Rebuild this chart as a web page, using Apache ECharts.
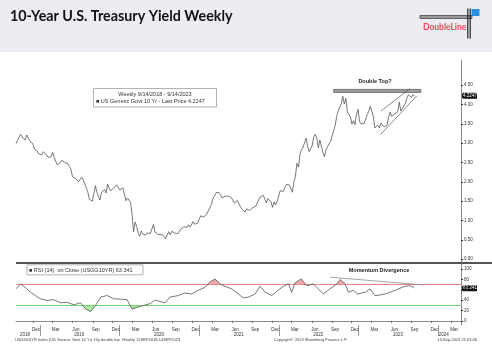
<!DOCTYPE html>
<html><head><meta charset="utf-8">
<script src="https://cdn.jsdelivr.net/npm/echarts@6/dist/echarts.min.js"></script>
<style>html,body{margin:0;padding:0;background:#fff}#c{width:492px;height:351px}</style>
</head><body><div id="c"></div>
<script>
// ---- data ----
const seriesStart = [2018, 8, 14]; // first weekly close (Sep 14 2018)
const y2018 = [2.99,3.07,3.06,3.23,3.16,3.20,3.08,3.21,3.19,3.06,3.05,2.99,2.85,2.89,2.79,2.72];
const y2019 = [2.67,2.70,2.78,2.76,2.69,2.63,2.66,2.65,2.76,2.63,2.59,2.44,2.41,2.50,2.56,2.56,2.50,2.53,2.47,2.39,2.32,2.13,2.08,2.09,2.05,2.00,2.04,2.12,2.05,2.07,1.85,1.74,1.55,1.52,1.50,1.55,1.90,1.72,1.68,1.53,1.73,1.75,1.80,1.71,1.94,1.83,1.77,1.78,1.84,1.82,1.92,1.88];
const y2020 = [1.79,1.82,1.84,1.68,1.51,1.58,1.59,1.47,1.15,0.71,0.96,0.85,0.67,0.59,0.73,0.65,0.60,0.62,0.68,0.64,0.66,0.65,0.90,0.70,0.69,0.64,0.67,0.64,0.62,0.59,0.53,0.56,0.71,0.63,0.72,0.72,0.67,0.69,0.66,0.70,0.78,0.74,0.84,0.87,0.82,0.89,0.83,0.84,0.97,0.90,0.95,0.94];
const y2021 = [0.92,1.12,1.08,1.09,1.07,1.17,1.20,1.34,1.41,1.57,1.63,1.72,1.68,1.72,1.66,1.58,1.56,1.63,1.58,1.63,1.62,1.59,1.55,1.45,1.44,1.52,1.43,1.36,1.29,1.28,1.22,1.30,1.28,1.26,1.31,1.33,1.34,1.37,1.46,1.47,1.61,1.57,1.65,1.55,1.45,1.57,1.54,1.48,1.34,1.48,1.40,1.49,1.51];
const y2022 = [1.77,1.78,1.75,1.78,1.93,1.94,1.92,1.97,1.73,2.00,2.15,2.48,2.38,2.72,2.83,2.90,2.89,3.13,2.92,2.78,2.74,2.94,3.16,3.23,3.13,2.88,3.08,2.92,2.75,2.65,2.83,2.84,2.98,3.04,3.19,3.31,3.45,3.69,3.83,3.88,4.02,4.21,4.01,4.16,3.81,3.83,3.68,3.49,3.58,3.48,3.75,3.87];
const y2023 = [3.56,3.50,3.48,3.51,3.53,3.74,3.82,3.95,3.96,3.70,3.39,3.38,3.47,3.39,3.52,3.57,3.42,3.44,3.46,3.67,3.80,3.69,3.74,3.76,3.73,3.81,4.06,3.83,3.84,3.96,4.03,4.16,4.25,4.24,4.18,4.26,4.22];
const lastPrice = 4.2247;

const rsiDates = ['2018-09-14','2018-10-05','2018-10-26','2018-11-19','2018-12-12','2019-01-04','2019-02-04','2019-03-06','2019-04-06','2019-05-07','2019-06-06','2019-07-07','2019-07-30','2019-08-22','2019-09-14','2019-10-07','2019-11-06','2019-12-07','2020-01-06','2020-02-05','2020-02-28','2020-03-22','2020-04-22','2020-05-23','2020-06-10','2020-06-30','2020-07-28','2020-08-20','2020-09-27','2020-10-28','2020-11-27','2020-12-27','2021-01-27','2021-02-19','2021-03-14','2021-04-06','2021-04-29','2021-05-30','2021-06-29','2021-07-22','2021-08-14','2021-09-14','2021-10-07','2021-10-30','2021-11-30','2021-12-22','2022-01-22','2022-02-14','2022-03-01','2022-03-16','2022-04-14','2022-05-09','2022-06-08','2022-07-01','2022-07-24','2022-08-24','2022-09-24','2022-10-09','2022-11-01','2022-11-16','2022-12-09','2022-12-28','2023-02-01','2023-02-23','2023-03-17','2023-04-09','2023-05-03','2023-05-26','2023-06-18','2023-07-10','2023-08-02','2023-08-25','2023-09-09','2023-09-14'];
const rsiValues = [62,71.6,65,55.5,49,42.6,39.4,41,35,36,31,35,23,18,30,46,49,42.6,42,41,23,26,30,33.6,40,38,35,46,49,54,52,59,65,75,81,71.6,67,62,52,44.5,46,52,67,55.5,49,57,67,71.6,55.5,73.5,81,68,71.6,62,52,62,71.6,80,71.6,55.5,59,52,55.5,62,49,50,52,55.5,59,63,67,68,65,63.3];
const lastRsi = 63.341;

const yTicks = [0,0.5,1,1.5,2,2.5,3,3.5,4,4.5];
const rsiTicks = [0,20,40,60,80,100];
const overbought = 70, oversold = 30;
const monthNames = ['Jan','Feb','Mar','Apr','May','Jun','Jul','Aug','Sep','Oct','Nov','Dec'];
const labelMonths = [11, 2, 5, 8];
const labelYears = [2018,2019,2020,2021,2022,2023,2024];
const yearLabelDates = ['2018-10-25','2019-07-01','2020-07-01','2021-07-01','2022-07-01','2023-07-01','2024-01-27'];

// annotations (data coordinates)
const doubleTopBand = [['2022-09-09', 4.31], ['2023-10-14', 4.39]];
const channelUpper = [['2023-04-14', 3.83], ['2023-08-25', 4.41]];
const channelLower = [['2023-04-12', 3.22], ['2023-09-25', 4.22]];
const divergence = [['2022-08-24', 84.5], ['2023-10-26', 69.6]];

// ---- build ----
const ts = s => { const p = s.split('-').map(Number); return new Date(p[0], p[1] - 1, p[2]).getTime(); };
const pt = a => [ts(a[0]), a[1]];
const yields = [].concat(y2018, y2019, y2020, y2021, y2022, y2023);
const yieldData = yields.map((v, i) => [new Date(seriesStart[0], seriesStart[1], seriesStart[2] + 7 * i).getTime(), v]);
const rsiData = rsiDates.map((d, i) => [ts(d), rsiValues[i]]);

const xMin = new Date(2018, 8, 14).getTime(), xMax = new Date(2024, 3, 15).getTime();
const monthLabelVals = [], monthTickVals = [];
for (let y = 2018; y <= 2024; y++) for (const m of labelMonths) {
  const t = new Date(y, m, 15).getTime();
  if (t > new Date(2018, 10, 1).getTime() && t < xMax) { monthLabelVals.push(t); monthTickVals.push(new Date(y, m, 1).getTime()); }
}
const yearTickVals = labelYears.slice(1).map(y => new Date(y, 0, 1).getTime());
const yearLabelVals = yearLabelDates.map(ts);

const FONT = 'Liberation Sans';
const axisGray = '#8a8a8a';

const chart = echarts.init(document.getElementById('c'));
const option = {
  animation: false,
  backgroundColor: '#ffffff',
  grid: [
    {left: 16, right: 31, top: 60, height: 203},
    {left: 16, right: 31, top: 263, height: 62}
  ],
  xAxis: [
    {type: 'value', gridIndex: 0, min: xMin, max: xMax, axisLine: {show: false}, axisTick: {show: false}, axisLabel: {show: false}, splitLine: {show: false}},
    {type: 'value', gridIndex: 1, min: xMin, max: xMax,
      axisLine: {show: true, lineStyle: {color: axisGray, width: 1}},
      axisTick: {show: true, customValues: monthTickVals, length: 2, lineStyle: {color: '#666'}},
      axisLabel: {show: true, customValues: monthLabelVals, margin: 2, fontSize: 4.5, fontFamily: FONT, color: '#333',
        formatter: v => monthNames[new Date(v).getMonth()]},
      splitLine: {show: false}},
    {type: 'value', gridIndex: 1, min: xMin, max: xMax, position: 'bottom',
      axisLine: {show: false},
      axisTick: {show: true, customValues: yearTickVals, length: 11, lineStyle: {color: '#999'}},
      axisLabel: {show: true, customValues: yearLabelVals, margin: 7, fontSize: 4.5, fontFamily: FONT, color: '#333',
        formatter: v => String(new Date(v).getFullYear())},
      splitLine: {show: false}}
  ],
  yAxis: [
    {type: 'value', gridIndex: 0, position: 'right', min: -0.1, max: 5.15,
      axisLine: {show: true, lineStyle: {color: axisGray}},
      axisTick: {show: true, customValues: yTicks, length: 2, lineStyle: {color: '#333'}},
      axisLabel: {show: true, customValues: yTicks, margin: 3, fontSize: 4.5, fontFamily: FONT, color: '#333', formatter: v => v.toFixed(2)},
      splitLine: {show: false}},
    {type: 'value', gridIndex: 1, position: 'right', min: -8, max: 112,
      axisLine: {show: true, lineStyle: {color: axisGray}},
      axisTick: {show: true, customValues: rsiTicks, length: 2, lineStyle: {color: '#333'}},
      axisLabel: {show: true, customValues: rsiTicks, margin: 3, fontSize: 4.5, fontFamily: FONT, color: '#333', formatter: v => String(v)},
      splitLine: {show: false}}
  ],
  visualMap: [
    {type: 'piecewise', show: false, seriesIndex: 2, dimension: 1,
      pieces: [{gte: -100, lte: overbought, color: 'rgba(255,255,255,0)'}, {gt: overbought, lte: 200, color: '#f4a9a9'}]},
    {type: 'piecewise', show: false, seriesIndex: 3, dimension: 1,
      pieces: [{gte: -100, lt: oversold, color: '#a9e8a2'}, {gte: oversold, lte: 200, color: 'rgba(255,255,255,0)'}]}
  ],
  series: [
    {type: 'line', xAxisIndex: 0, yAxisIndex: 0, data: yieldData, showSymbol: false, z: 5,
      lineStyle: {color: '#555', width: 0.8},
      markArea: {silent: true, itemStyle: {color: '#9b9b9b', borderColor: '#444', borderWidth: 0.6},
        data: [[{coord: pt(doubleTopBand[0])}, {coord: pt(doubleTopBand[1])}]]},
      markLine: {silent: true, symbol: 'none', label: {show: false}, lineStyle: {color: '#555', width: 0.7, type: 'solid'},
        data: [[{coord: pt(channelUpper[0])}, {coord: pt(channelUpper[1])}], [{coord: pt(channelLower[0])}, {coord: pt(channelLower[1])}]]}},
    {type: 'line', xAxisIndex: 1, yAxisIndex: 1, data: rsiData, showSymbol: false, z: 5,
      lineStyle: {color: '#555', width: 0.8},
      markLine: {silent: true, symbol: 'none', label: {show: false},
        data: [
          {yAxis: overbought, lineStyle: {color: '#f28585', width: 1, type: 'solid'}},
          {yAxis: oversold, lineStyle: {color: '#72d86e', width: 1, type: 'solid'}},
          [{coord: pt(divergence[0]), lineStyle: {color: '#8c8c8c', width: 0.8, type: 'solid'}}, {coord: pt(divergence[1])}]
        ]}},
    {type: 'line', xAxisIndex: 1, yAxisIndex: 1, data: rsiData, showSymbol: false, z: 2,
      lineStyle: {width: 0, opacity: 0}, areaStyle: {opacity: 1}},
    {type: 'line', xAxisIndex: 1, yAxisIndex: 1, data: rsiData, showSymbol: false, z: 2,
      lineStyle: {width: 0, opacity: 0}, areaStyle: {opacity: 1, origin: 'end'}}
  ]
};
chart.setOption(option);

const py = chart.convertToPixel({yAxisIndex: 0}, lastPrice);
const ry = chart.convertToPixel({yAxisIndex: 1}, lastRsi);
const tag = (y, txt) => ({type: 'group', x: 461, y: y, z: 30, children: [
  {type: 'polygon', shape: {points: [[0, 0], [2, -3], [16, -3], [16, 3], [2, 3]]}, style: {fill: '#111'}},
  {type: 'text', x: 9, y: 0, style: {text: txt, fill: '#fff', font: '4.5px ' + FONT, align: 'center', verticalAlign: 'middle'}}
]});

chart.setOption({graphic: [
  {type: 'rect', shape: {x: 0, y: 0, width: 492, height: 52}, style: {fill: '#ebedf2'}, z: -10},
  {type: 'text', x: 10, y: 16, style: {text: '10-Year U.S. Treasury Yield Weekly', fill: '#111', font: 'bold 14.3px Lato', verticalAlign: 'middle'}},
  {type: 'rect', shape: {x: 420, y: 15.5, width: 52, height: 3}, style: {fill: '#9a9a9a', stroke: '#222', lineWidth: 0.6}},
  {type: 'rect', shape: {x: 467.2, y: 8.5, width: 1.2, height: 30}, style: {fill: '#222'}},
  {type: 'rect', shape: {x: 469.6, y: 8.5, width: 1.2, height: 30}, style: {fill: '#222'}},
  {type: 'rect', shape: {x: 471.5, y: 9, width: 8, height: 7}, style: {fill: '#2a8ddf'}},
  {type: 'text', x: 423, y: 27.5, style: {text: 'DoubleLine', fill: '#e84a50', font: 'bold 8.5px Lato', verticalAlign: 'middle'}},
  {type: 'rect', shape: {x: 16, y: 262, width: 476, height: 2}, style: {fill: '#555'}, z: 20},
  {type: 'rect', shape: {x: 93.5, y: 88.5, width: 123, height: 18.5}, style: {fill: '#fff', stroke: '#a0a0a0', lineWidth: 0.8}, z: 20},
  {type: 'text', x: 155, y: 94.5, style: {text: 'Weekly 9/14/2018 - 9/14/2023', fill: '#333', font: '5.5px ' + FONT, align: 'center', verticalAlign: 'middle'}, z: 21},
  {type: 'text', x: 96, y: 101.5, style: {text: '\u25A0 US Generic Govt 10 Yr - Last Price ' + lastPrice, fill: '#333', font: '5.5px ' + FONT, verticalAlign: 'middle'}, z: 21},
  {type: 'rect', shape: {x: 27, y: 264.8, width: 116, height: 10}, style: {fill: '#fff', stroke: '#a0a0a0', lineWidth: 0.8}, z: 20},
  {type: 'text', x: 29, y: 270, style: {text: '\u25A0 RSI (14)  on Close (USGG10YR) ' + lastRsi, fill: '#333', font: '5.5px ' + FONT, verticalAlign: 'middle'}, z: 21},
  {type: 'text', x: 375, y: 81.5, style: {text: 'Double Top?', fill: '#222', font: 'bold 5.5px ' + FONT, align: 'center', verticalAlign: 'middle'}, z: 21},
  {type: 'text', x: 379, y: 270.7, style: {text: 'Momentum Divergence', fill: '#222', font: 'bold 5.5px ' + FONT, align: 'center', verticalAlign: 'middle'}, z: 21},
  {type: 'text', x: 15, y: 339.5, style: {text: 'USGG10YR Index (US Generic Govt 10 Yr) 10y double top  Weekly 12SEP2018-14SEP2023', fill: '#444', font: '4px ' + FONT, verticalAlign: 'middle'}},
  {type: 'text', x: 310.5, y: 339.5, style: {text: 'Copyright\u00A9 2023 Bloomberg Finance L.P.', fill: '#444', font: '4px ' + FONT, align: 'center', verticalAlign: 'middle'}},
  {type: 'text', x: 477, y: 339.5, style: {text: '13-Sep-2023 21:03:46', fill: '#444', font: '4px ' + FONT, align: 'right', verticalAlign: 'middle'}},
  tag(py, lastPrice.toFixed(4)),
  tag(ry, lastRsi.toFixed(3))
]});
</script></body></html>
